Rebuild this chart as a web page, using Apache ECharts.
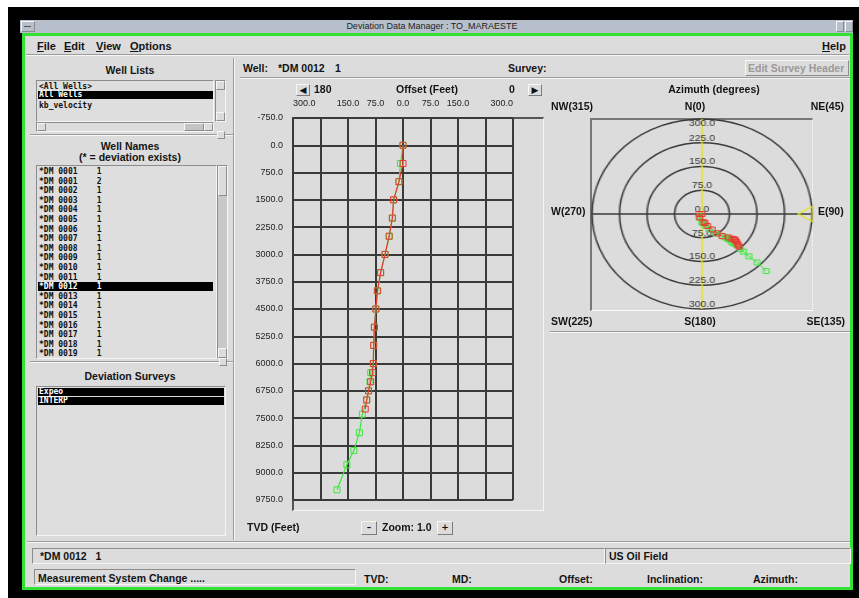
<!doctype html>
<html>
<head>
<meta charset="utf-8">
<title>Deviation Data Manager : TO_MARAESTE</title>
<script src="https://cdn.jsdelivr.net/npm/echarts@6/dist/echarts.min.js"></script>
<style>
    body{margin:0;width:859px;height:598px;background:#fff;overflow:hidden;position:relative;font-family:"Liberation Sans",Arial,sans-serif}
    .a{position:absolute}
    .t{position:absolute;font:bold 10.5px "Liberation Sans",Arial,sans-serif;color:#141414;white-space:nowrap;line-height:12px}
    .in{position:absolute;box-sizing:border-box;border:1px solid;border-color:#8c8c8c #f6f6f6 #f6f6f6 #8c8c8c}
    .out{position:absolute;box-sizing:border-box;border:1px solid;border-color:#f6f6f6 #8c8c8c #8c8c8c #f6f6f6;background:#dcdcdc}
    .hr{position:absolute;height:0;border-top:1px solid #9c9c9c;border-bottom:1px solid #f6f6f6}
    .vr{position:absolute;width:0;border-left:1px solid #9c9c9c;border-right:1px solid #f6f6f6}
    .m{position:absolute;font:bold 8px "DejaVu Sans Mono",monospace;line-height:9px;white-space:pre;color:#111}
    .sel{background:#000;color:#fff}
    .btn{position:absolute;box-sizing:border-box;border:1px solid;border-color:#f6f6f6 #7c7c7c #7c7c7c #f6f6f6;background:#dcdcdc;font:bold 9px "DejaVu Sans",sans-serif;text-align:center;line-height:11px;color:#111}
</style>
</head>
<body>
<!-- window frame -->
<div class="a" style="left:8px;top:7px;width:851px;height:591px;background:#000"></div>
<div class="a" style="left:20px;top:20px;width:833px;height:13px;background:#b7bfcc"></div>
<div class="out" style="left:21px;top:21px;width:14px;height:11px;background:#b7bfcc"></div>
<div class="a" style="left:24px;top:26px;width:7px;height:1px;background:#555"></div>
<div class="out" style="left:836px;top:21px;width:8px;height:11px;background:#b7bfcc"></div>
<div class="out" style="left:845px;top:21px;width:8px;height:11px;background:#b7bfcc"></div>
<div class="a" style="left:20px;top:21px;width:824px;text-align:center;font:9px 'Liberation Sans',Arial;line-height:11px;color:#222">Deviation Data Manager : TO_MARAESTE</div>
<div class="a" style="left:22px;top:33px;width:831px;height:557px;box-sizing:border-box;border:3px solid #33e333;background:#dcdcdc"></div>

<!-- menu -->
<div class="t" style="left:37px;top:40px;font-size:11px"><u>F</u>ile</div>
<div class="t" style="left:64px;top:40px;font-size:11px"><u>E</u>dit</div>
<div class="t" style="left:96px;top:40px;font-size:11px"><u>V</u>iew</div>
<div class="t" style="left:130px;top:40px;font-size:11px"><u>O</u>ptions</div>
<div class="t" style="left:822px;top:40px;font-size:11px"><u>H</u>elp</div>
<div class="hr" style="left:26px;top:54px;width:823px"></div>

<!-- left panel -->
<div class="vr" style="left:233px;top:58px;height:482px"></div>
<div class="t" style="left:30px;top:64px;width:200px;text-align:center">Well Lists</div>
<div class="in" style="left:36px;top:80px;width:178px;height:42px;background:#dedede"></div>
<div class="m" style="left:39px;top:82px">&lt;All Wells&gt;</div>
<div class="m sel" style="left:38px;top:91px;width:174px;height:8px;line-height:8px;padding-left:1px">All Wells</div>
<div class="m" style="left:39px;top:101px">kb_velocity</div>
<div class="in" style="left:215px;top:80px;width:11px;height:42px"></div>
<div class="out" style="left:216px;top:81px;width:9px;height:9px"></div>
<div class="out" style="left:216px;top:112px;width:9px;height:9px"></div>
<div class="in" style="left:36px;top:122px;width:178px;height:10px"></div>
<div class="out" style="left:37px;top:123px;width:9px;height:8px"></div>
<div class="out" style="left:184px;top:123px;width:20px;height:8px;background:#c4c4c4"></div>
<div class="out" style="left:204px;top:123px;width:9px;height:8px"></div>
<div class="hr" style="left:30px;top:134px;width:203px"></div>
<div class="out" style="left:217px;top:131px;width:8px;height:8px"></div>

<div class="t" style="left:30px;top:140px;width:200px;text-align:center">Well Names</div>
<div class="t" style="left:30px;top:151px;width:200px;text-align:center">(* = deviation exists)</div>
<div class="in" style="left:36px;top:165px;width:181px;height:194px;background:#dedede"></div>
<div id="wells"></div>
<div class="in" style="left:217px;top:165px;width:11px;height:194px;background:#c8c8c8"></div>
<div class="out" style="left:218px;top:166px;width:9px;height:30px"></div>
<div class="out" style="left:218px;top:348px;width:9px;height:10px"></div>
<div class="hr" style="left:30px;top:361px;width:203px"></div>
<div class="out" style="left:219px;top:358px;width:8px;height:8px"></div>

<div class="t" style="left:30px;top:370px;width:200px;text-align:center">Deviation Surveys</div>
<div class="in" style="left:36px;top:386px;width:190px;height:150px;background:#dedede"></div>
<div class="m sel" style="left:38px;top:388px;width:185px;height:8px;line-height:8px;padding-left:1px">Expeo</div>
<div class="m sel" style="left:38px;top:397px;width:185px;height:8px;line-height:8px;padding-left:1px">INTERP</div>

<!-- bottom status -->
<div class="hr" style="left:27px;top:541px;width:823px"></div>
<div class="in" style="left:32px;top:548px;width:573px;height:16px"></div>
<div class="t" style="left:40px;top:550px">*DM 0012&nbsp;&nbsp; 1</div>
<div class="in" style="left:605px;top:548px;width:246px;height:16px"></div>
<div class="t" style="left:609px;top:550px">US Oil Field</div>
<div class="in" style="left:34px;top:569px;width:322px;height:16px"></div>
<div class="t" style="left:38px;top:572px">Measurement System Change .....</div>
<div class="t" style="left:364px;top:573px">TVD:</div>
<div class="t" style="left:452px;top:573px">MD:</div>
<div class="t" style="left:559px;top:573px">Offset:</div>
<div class="t" style="left:647px;top:573px">Inclination:</div>
<div class="t" style="left:753px;top:573px">Azimuth:</div>

<!-- well header row -->
<div class="t" style="left:243px;top:62px">Well:</div>
<div class="t" style="left:278px;top:62px">*DM 0012</div>
<div class="t" style="left:335px;top:62px">1</div>
<div class="t" style="left:508px;top:62px">Survey:</div>
<div class="out" style="left:745px;top:60px;width:104px;height:16px"></div>
<div class="t" style="left:748px;top:62px;color:#9a9a9a">Edit Survey Header</div>
<div class="hr" style="left:240px;top:77px;width:610px"></div>

<!-- centre panel controls -->
<div class="btn" style="left:296px;top:84px;width:14px;height:12px">&#9664;</div>
<div class="btn" style="left:528px;top:84px;width:14px;height:12px">&#9654;</div>
<div class="btn" style="left:361px;top:521px;width:16px;height:14px">&#8211;</div>
<div class="btn" style="left:437px;top:521px;width:16px;height:14px">+</div>
<div class="a" style="left:292px;top:117px;width:252px;height:394px;box-sizing:border-box;border-top:2px solid #555;border-left:2px solid #555;border-right:1px solid #f4f4f4;border-bottom:1px solid #f4f4f4"></div>

<!-- right panel -->
<div class="a" style="left:590px;top:118px;width:223px;height:193px;box-sizing:border-box;border-top:2px solid #777;border-left:2px solid #777;border-right:1px dotted #fafafa;border-bottom:1px solid #fafafa"></div>
<div class="hr" style="left:550px;top:331px;width:300px"></div>

<div id="main" class="a" style="left:236px;top:78px;width:615px;height:463px"></div>
<div id="polar" class="a" style="left:602px;top:114px;width:200px;height:200px;transform:scaleX(1.158);transform-origin:50% 50%"></div>

<script type="text/javascript">
    // survey stations: TVD, offset (north), east
    var tvdGreen = [0, 500, 1000, 1500, 2000, 2500, 3000, 3500, 4000, 4500, 5000, 5500, 6000, 6250, 6500, 6750, 7000, 7390, 7900, 8390, 8780, 9470];
    var offsetGreen = [0, -7, -11, -25, -29, -37, -49, -61, -69, -74, -78, -80, -81, -88, -90, -94, -99, -111, -119, -134, -153, -180];
    var eastGreen = [0, -6, -8, -1, 2, 10, 20, 38, 55, 63, 70, 73, 76, 81, 83, 88, 94, 105, 113, 128, 150, 175];

    var tvdRed = [0, 500, 1000, 1500, 2000, 2500, 3000, 3500, 4000, 4500, 5000, 5500, 6000, 6250, 6500, 6750, 7000, 7250];
    var offsetRed = [0, 0, -11, -26, -29, -38, -49, -61, -70, -74, -78, -80, -81, -83, -88, -94, -99, -103];
    var eastRed = [0, -8, -6, 5, 8, 15, 28, 42, 55, 72, 81, 87, 89, 91, 94, 97, 99, 101];

    var sectionAzimuth = 90;
    var sectionLeft = '180';
    var sectionRight = '0';

    var wellIds = ['0001', '0001', '0002', '0003', '0004', '0005', '0006', '0007', '0008', '0009',
        '0010', '0011', '0012', '0013', '0014', '0015', '0016', '0017', '0018', '0019'];
    var wellVersions = ['1', '2', '1', '1', '1', '1', '1', '1', '1', '1',
        '1', '1', '1', '1', '1', '1', '1', '1', '1', '1'];
    var selectedWell = 12;

    var html = '';
    for (var i = 0; i < wellIds.length; i++) {
        var rowTop = Math.round(167 + i * 9.6);
        var txt = '*DM ' + wellIds[i] + '    ' + wellVersions[i];
        if (i === selectedWell) {
            html += '<div class="m sel" style="left:38px;top:' + rowTop + 'px;width:174px;height:9px;padding-left:1px">' + txt + '</div>';
        } else {
            html += '<div class="m" style="left:39px;top:' + rowTop + 'px">' + txt + '</div>';
        }
    }
    document.getElementById('wells').innerHTML = html;

    function pairs(xs, ys) {
        return xs.map(function (x, i) { return [x, ys[i]]; });
    }
    function toPolar(north, east) {
        return north.map(function (n, i) {
            var e = east[i];
            var az = Math.atan2(e, n) * 180 / Math.PI;
            if (az < 0) az += 360;
            return [Math.sqrt(n * n + e * e), az];
        });
    }

    var font = 'Liberation Sans';
    var green = '#3ce83c';
    var red = '#f03434';

    function label(text, x, y, align) {
        return {
            type: 'text', x: x, y: y, silent: true,
            style: {text: text, font: 'bold 10.5px "' + font + '"', fill: '#141414',
                textAlign: align || 'left', textVerticalAlign: 'middle'}
        };
    }

    var myChart = echarts.init(document.getElementById('main'));
    myChart.setOption({
        animation: false,
        graphic: [
            label(sectionLeft, 78, 12),
            label('Offset (Feet)', 191, 12, 'center'),
            label(sectionRight, 276, 12, 'center'),
            label('TVD (Feet)', 11, 450),
            label('Zoom: 1.0', 146, 450),
            label('Azimuth (degrees)', 478, 12, 'center'),
            label('NW(315)', 315, 29),
            label('N(0)', 459, 29, 'center'),
            label('NE(45)', 608, 29, 'right'),
            label('W(270)', 315, 134),
            label('E(90)', 582, 134),
            label('SW(225)', 315, 244),
            label('S(180)', 464, 244, 'center'),
            label('SE(135)', 609, 244, 'right')
        ],
        grid: {left: 57, top: 40, width: 220, height: 382},
        xAxis: {
            type: 'value', position: 'top', min: -300, max: 300, interval: 75, offset: 4,
            axisLine: {show: false},
            axisTick: {show: true, length: 4, lineStyle: {color: '#333'}},
            axisLabel: {
                margin: 6, fontSize: 9, fontFamily: font, color: '#222',
                alignMinLabel: 'left', alignMaxLabel: 'right',
                formatter: function (v) { return Math.abs(v) === 225 ? '' : Math.abs(v).toFixed(1); }
            },
            splitLine: {show: true, lineStyle: {color: '#3a3a3a', width: 2}}
        },
        yAxis: {
            type: 'value', inverse: true, min: -750, max: 9750, interval: 750, offset: 4,
            axisLine: {show: false},
            axisTick: {show: true, length: 4, lineStyle: {color: '#333'}},
            axisLabel: {margin: 6, fontSize: 9, fontFamily: font, color: '#222',
                formatter: function (v) { return v.toFixed(1); }},
            splitLine: {show: true, lineStyle: {color: '#3a3a3a', width: 2}}
        },
        series: [{
            type: 'line', data: pairs(offsetGreen, tvdGreen), symbol: 'rect', symbolSize: 6, showAllSymbol: true,
            lineStyle: {color: green, width: 1.2},
            itemStyle: {color: 'transparent', borderColor: green, borderWidth: 1}
        }, {
            type: 'line', data: pairs(offsetRed, tvdRed), symbol: 'rect', symbolSize: 6, showAllSymbol: true,
            lineStyle: {color: red, width: 1.2},
            itemStyle: {color: 'transparent', borderColor: red, borderWidth: 1}
        }]
    });

    // three stacked polars: rings + upper labels, lower labels, and the outer-ring label
    var polarChart = echarts.init(document.getElementById('polar'));
    function ringLabel(extra) {
        return echarts.util.extend({
            margin: 0, align: 'center', verticalAlign: 'bottom', fontSize: 9, fontFamily: font, color: '#333',
            formatter: function (v) { return v.toFixed(1); }
        }, extra);
    }
    function hiddenAngle(idx, start) {
        return {
            polarIndex: idx, type: 'value', min: 0, max: 360, startAngle: start, clockwise: true,
            axisLine: {show: false}, axisTick: {show: false}, axisLabel: {show: false}, splitLine: {show: false}
        };
    }
    function labelRadius(idx, axisLabel) {
        return {
            polarIndex: idx, type: 'value', min: 0, max: 300, interval: 75,
            axisLine: {show: false}, axisTick: {show: false}, axisLabel: axisLabel, splitLine: {show: false}
        };
    }
    polarChart.setOption({
        animation: false,
        polar: [
            {center: ['50%', '50%'], radius: 95},
            {center: ['50%', '50%'], radius: 95},
            {center: ['50%', '50%'], radius: 95}
        ],
        angleAxis: [{
            polarIndex: 0, type: 'value', min: 0, max: 360, interval: 90, startAngle: 90, clockwise: true,
            axisLine: {show: false}, axisTick: {show: false}, axisLabel: {show: false},
            splitLine: {show: true, lineStyle: {color: ['#e6e21e', '#3a3a3a', '#e6e21e', '#3a3a3a'], width: 1.3}}
        }, hiddenAngle(1, 270), hiddenAngle(2, 90)],
        radiusAxis: [{
            polarIndex: 0, type: 'value', min: 0, max: 300, interval: 75,
            axisLine: {show: false}, axisTick: {show: false}, axisLabel: ringLabel({showMaxLabel: false}),
            splitLine: {show: true, lineStyle: {color: '#3a3a3a', width: 1.4}}
        },
            labelRadius(1, ringLabel({showMinLabel: false})),
            labelRadius(2, ringLabel({
                verticalAlign: 'top', showMinLabel: false,
                formatter: function (v) { return v === 300 ? v.toFixed(1) : ''; }
            }))
        ],
        series: [{
            type: 'line', coordinateSystem: 'polar', polarIndex: 0, data: toPolar(offsetGreen, eastGreen),
            symbol: 'rect', symbolSize: 5, showAllSymbol: true,
            lineStyle: {color: green, width: 1},
            itemStyle: {color: 'transparent', borderColor: green, borderWidth: 1}
        }, {
            type: 'line', coordinateSystem: 'polar', polarIndex: 0, data: toPolar(offsetRed, eastRed),
            symbol: 'rect', symbolSize: 5, showAllSymbol: true,
            lineStyle: {color: red, width: 1},
            itemStyle: {color: 'transparent', borderColor: red, borderWidth: 1}
        }, {
            type: 'scatter', coordinateSystem: 'polar', polarIndex: 0, data: [[300, sectionAzimuth]],
            symbol: 'triangle', symbolSize: [15, 12], symbolRotate: 90, symbolOffset: [-6, 0],
            itemStyle: {color: 'transparent', borderColor: '#e6e21e', borderWidth: 1.3}
        }]
    });
</script>
</body>
</html>
